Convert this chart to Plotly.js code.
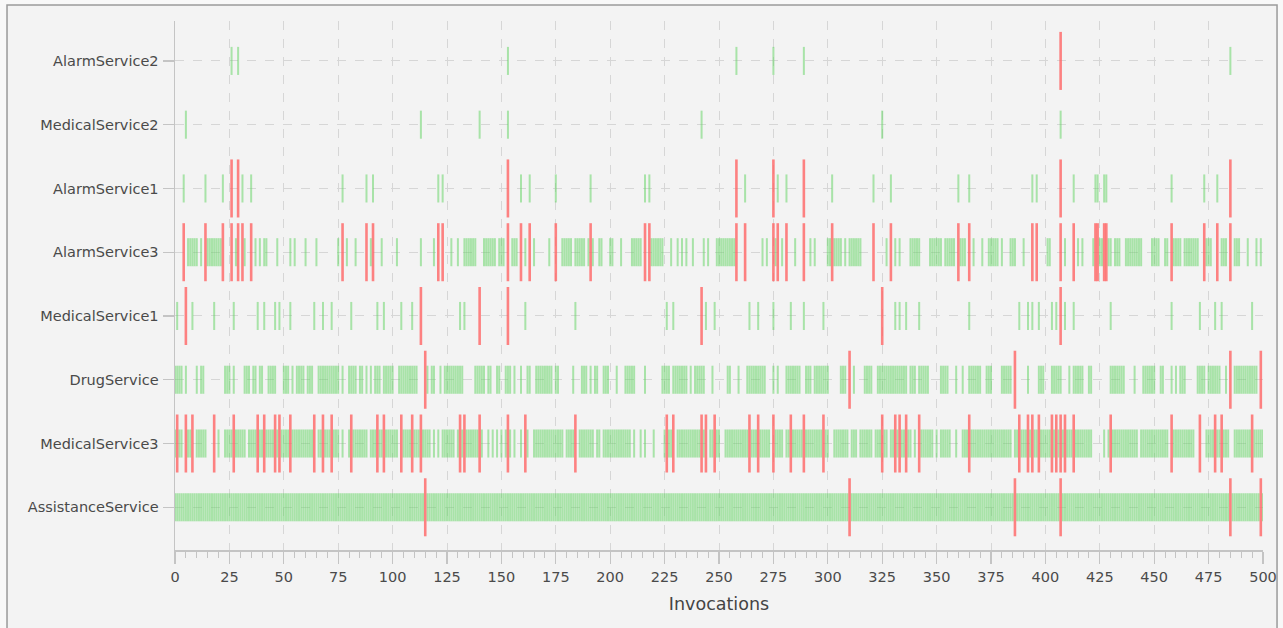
<!DOCTYPE html>
<html>
<head>
<meta charset="utf-8">
<script src="https://cdn.plot.ly/plotly-3.0.1.min.js"></script>
<style>html,body{margin:0;padding:0;background:#f8f8f8;}#chart{width:1283px;height:628px;}</style>
</head>
<body>
<div id="chart"></div>
<script>
// Services, listed top to bottom as drawn
const services = ["AlarmService2","MedicalService2","AlarmService1","AlarmService3","MedicalService1","DrugService","MedicalService3","AssistanceService"];
const xTicks = [0,25,50,75,100,125,150,175,200,225,250,275,300,325,350,375,400,425,450,475,500];

// Invocation numbers with a successful call (green) and a failed call (red)
const alarmService2Ok = [26,29,153,258,275,289,485];
const alarmService2Failed = [407];

const medicalService2Ok = [5,113,140,153,242,325,407];
const medicalService2Failed = [];

const alarmService1Ok = [4,14,22,31,35,77,88,91,121,123,159,163,175,191,216,218,262,277,281,302,321,329,360,365,394,396,413,423,424,427,428,458,473,479];
const alarmService1Failed = [26,29,153,258,275,289,407,485];

const alarmService3Ok = [6,7,8,9,10,12,15,16,17,18,19,20,21,28,32,37,39,41,42,47,53,55,60,65,75,79,83,
  90,95,102,113,119,127,130,133,134,135,136,137,138,142,143,144,145,146,147,149,150,151,155,156,157,161,165,
  172,178,179,180,181,182,184,185,186,187,188,190,192,195,196,200,201,205,210,211,212,213,214,219,220,221,222,223,224,228,231,233,235,238,243,245,249,250,251,252,253,254,
  255,256,257,270,272,276,279,285,292,294,300,301,303,304,305,306,308,310,311,312,313,314,315,327,331,333,338,339,
  340,341,342,347,348,349,350,351,352,354,355,356,357,358,361,362,363,367,371,374,375,376,377,378,380,384,385,386,390,401,402,409,415,417,422,
  425,426,429,430,432,433,434,437,438,439,440,441,442,443,444,449,450,451,452,455,456,459,460,461,462,464,465,466,467,468,469,470,474,475,476,481,482,483,487,488,489,493,497,499];
const alarmService3Failed = [4,14,22,26,29,31,35,77,88,91,121,123,153,159,163,175,191,216,218,258,262,275,277,281,289,302,321,329,360,365,394,396,407,413,423,424,427,428,458,473,479,485];

const medicalService1Ok = [1,8,18,27,38,41,46,48,53,64,68,72,81,93,96,104,109,131,133,161,184,226,229,244,248,264,268,275,283,289,298,331,333,336,342,365,388,392,394,397,403,405,409,413,430,458,471,478,481,495];
const medicalService1Failed = [5,113,140,153,242,325,407];

const drugServiceOk = [0,1,2,3,5,10,12,13,23,24,25,27,32,33,34,36,37,39,40,43,44,45,46,50,51,52,54,56,57,58,59,61,62,63,66,67,68,69,70,71,72,73,74,75,77,80,81,82,83,
  85,86,88,90,92,93,94,96,97,98,99,100,103,104,105,106,107,108,109,110,111,116,118,119,122,124,125,126,127,128,129,130,131,132,138,139,140,141,142,144,145,148,149,152,153,154,156,159,162,163,166,167,168,169,170,
  171,172,173,175,176,183,187,188,189,191,193,194,197,198,199,203,207,208,209,210,211,216,224,225,226,227,229,230,231,232,233,234,235,237,239,240,241,242,243,247,254,255,
  259,263,264,265,266,267,268,269,270,271,275,277,281,282,283,284,285,286,287,290,291,292,294,295,296,297,298,299,300,306,307,308,312,317,318,319,320,323,324,325,326,327,328,329,330,331,332,333,334,335,336,338,339,
  340,342,343,344,345,346,352,353,354,355,359,362,365,366,367,368,369,370,373,374,375,380,381,382,383,384,392,397,398,399,403,404,405,406,407,411,413,414,415,416,417,420,421,
  430,431,432,433,434,435,436,441,445,446,447,448,449,450,453,454,458,460,462,463,464,470,471,472,473,475,476,477,478,479,480,483,487,488,489,490,491,492,493,494,495,496,497];
const drugServiceFailed = [115,310,386,485,499];

const medicalService3Ok = [0,2,3,6,7,10,11,12,13,14,20,23,24,25,26,28,29,30,31,32,34,35,36,37,39,40,42,43,44,45,47,49,50,51,52,54,55,56,57,58,59,60,61,62,63,66,67,69,70,71,73,74,75,77,80,82,83,84,
  85,86,87,88,90,91,92,94,95,97,98,99,100,101,102,105,106,107,108,110,111,112,114,115,116,117,119,121,123,124,125,126,127,128,130,132,134,135,136,137,138,139,141,144,146,148,150,152,154,156,159,162,165,166,167,168,169,170,
  171,172,173,174,175,176,177,178,180,181,182,183,186,187,188,189,190,191,192,194,195,197,198,199,200,201,202,203,204,205,206,207,208,209,211,214,216,220,225,227,228,231,232,233,234,235,236,237,238,239,240,241,243,246,247,249,250,253,254,255,
  256,257,258,259,260,261,262,263,265,266,267,269,270,271,272,273,276,277,278,279,281,282,284,285,286,287,288,290,291,292,293,294,295,296,297,299,300,303,304,305,306,307,308,309,311,312,313,315,316,317,318,319,320,322,323,324,326,327,329,330,332,334,335,337,338,
  340,343,344,345,346,347,348,350,352,353,354,355,356,359,362,363,364,366,367,368,369,370,371,372,373,374,375,376,377,378,379,380,381,382,383,384,386,387,389,390,391,393,395,396,398,399,400,401,402,404,406,408,410,411,412,414,415,416,417,418,419,420,421,
  427,429,431,432,433,434,435,436,437,438,439,440,441,442,444,445,446,447,448,449,450,451,452,453,454,455,456,459,460,461,462,463,464,465,466,467,468,474,475,476,477,479,480,482,483,484,487,488,489,490,491,492,493,494,496,497,498,499,500];
const medicalService3Failed = [1,5,8,18,27,38,41,46,48,53,64,68,72,81,93,96,104,109,113,131,133,140,153,161,184,226,229,242,244,248,264,268,275,283,289,298,325,331,333,336,342,365,388,392,394,397,403,405,407,409,413,430,458,471,478,481,495];

const assistanceServiceOk = [
  0,1,2,3,4,5,6,7,8,9,10,11,12,13,14,15,16,17,18,19,20,21,22,23,24,
  25,26,27,28,29,30,31,32,33,34,35,36,37,38,39,40,41,42,43,44,45,46,47,48,49,
  50,51,52,53,54,55,56,57,58,59,60,61,62,63,64,65,66,67,68,69,70,71,72,73,74,
  75,76,77,78,79,80,81,82,83,84,85,86,87,88,89,90,91,92,93,94,95,96,97,98,99,
  100,101,102,103,104,105,106,107,108,109,110,111,112,113,114,116,117,118,119,120,121,122,123,124,
  125,126,127,128,129,130,131,132,133,134,135,136,137,138,139,140,141,142,143,144,145,146,147,148,149,
  150,151,152,153,154,155,156,157,158,159,160,161,162,163,164,165,166,167,168,169,170,171,172,173,174,
  175,176,177,178,179,180,181,182,183,184,185,186,187,188,189,190,191,192,193,194,195,196,197,198,199,
  200,201,202,203,204,205,206,207,208,209,210,211,212,213,214,215,216,217,218,219,220,221,222,223,224,
  225,226,227,228,229,230,231,232,233,234,235,236,237,238,239,240,241,242,243,244,245,246,247,248,249,
  250,251,252,253,254,255,256,257,258,259,260,261,262,263,264,265,266,267,268,269,270,271,272,273,274,
  275,276,277,278,279,280,281,282,283,284,285,286,287,288,289,290,291,292,293,294,295,296,297,298,299,
  300,301,302,303,304,305,306,307,308,309,311,312,313,314,315,316,317,318,319,320,321,322,323,324,
  325,326,327,328,329,330,331,332,333,334,335,336,337,338,339,340,341,342,343,344,345,346,347,348,349,
  350,351,352,353,354,355,356,357,358,359,360,361,362,363,364,365,366,367,368,369,370,371,372,373,374,
  375,376,377,378,379,380,381,382,383,384,385,387,388,389,390,391,392,393,394,395,396,397,398,399,
  400,401,402,403,404,405,406,408,409,410,411,412,413,414,415,416,417,418,419,420,421,422,423,424,
  425,426,427,428,429,430,431,432,433,434,435,436,437,438,439,440,441,442,443,444,445,446,447,448,449,
  450,451,452,453,454,455,456,457,458,459,460,461,462,463,464,465,466,467,468,469,470,471,472,473,474,
  475,476,477,478,479,480,481,482,483,484,486,487,488,489,490,491,492,493,494,495,496,497,498,500];
const assistanceServiceFailed = [115,310,386,407,485,499];

// Table of rows built from the named arrays above (same order as services)
const okRows = [alarmService2Ok, medicalService2Ok, alarmService1Ok, alarmService3Ok, medicalService1Ok, drugServiceOk, medicalService3Ok, assistanceServiceOk];
const failedRows = [alarmService2Failed, medicalService2Failed, alarmService1Failed, alarmService3Failed, medicalService1Failed, drugServiceFailed, medicalService3Failed, assistanceServiceFailed];

const n = services.length;
function buildSegments(rows, half) {
  const X = [], Y = [];
  rows.forEach((xs, i) => {
    const level = n - 1 - i;
    xs.forEach(v => { X.push(v, v, null); Y.push(level - half, level + half, null); });
  });
  return {X, Y};
}
const ok = buildSegments(okRows, 0.22);
const bad = buildSegments(failedRows, 0.455);

const traces = [
  {type:'scatter', mode:'lines', x: ok.X, y: ok.Y, line:{color:'rgba(105,214,105,0.55)', width:2}, hoverinfo:'skip', connectgaps:false},
  {type:'scatter', mode:'lines', x: bad.X, y: bad.Y, line:{color:'rgba(255,100,100,0.8)', width:2.6}, hoverinfo:'skip', connectgaps:false}
];

const tickFont = {family:'"DejaVu Sans", "Liberation Sans", sans-serif', size:14.5, color:'#4a4a4a'};
const layout = {
  width:1283, height:628,
  margin:{l:175, r:20, t:21, b:78, pad:0},
  paper_bgcolor:'#f8f8f8',
  plot_bgcolor:'rgba(0,0,0,0)',
  showlegend:false,
  hovermode:false,
  xaxis:{
    range:[0,500], tickvals:xTicks, ticktext:xTicks.map(String),
    showline:true, linecolor:'#c4c4c4', linewidth:1.5,
    ticks:'outside', ticklen:12, tickcolor:'#c4c4c4', tickwidth:1.2,
    minor:{dtick:5, tick0:0, ticks:'outside', ticklen:6, tickcolor:'#c4c4c4', tickwidth:1, showgrid:false},
    showgrid:true, gridcolor:'#d6d6d6', griddash:'dash', gridwidth:1,
    zeroline:false, tickfont:tickFont, ticklabelstandoff:1,
    title:{text:'Invocations', font:{family:'"DejaVu Sans", sans-serif', size:17.5, color:'#444'}, standoff:14}
  },
  yaxis:{
    range:[-0.67, 7.626],
    tickvals: services.map((s,i)=>n-1-i), ticktext: services,
    showline:true, linecolor:'#c4c4c4', linewidth:1.5,
    ticks:'outside', ticklen:11, tickcolor:'#c4c4c4', tickwidth:1.2,
    showgrid:true, gridcolor:'#d6d6d6', griddash:'dash', gridwidth:1,
    zeroline:false, tickfont:tickFont, ticklabelstandoff:1
  },
  shapes:[
    {type:'rect', xref:'paper', yref:'paper', x0:-0.1544, x1:1.0129, y0:-0.25, y1:1.0302,
     line:{color:'#9a9a9a', width:1.5}, fillcolor:'#f3f3f3', layer:'below'}
  ]
};

Plotly.newPlot('chart', traces, layout, {displayModeBar:false, staticPlot:true});
</script>
</body>
</html>
